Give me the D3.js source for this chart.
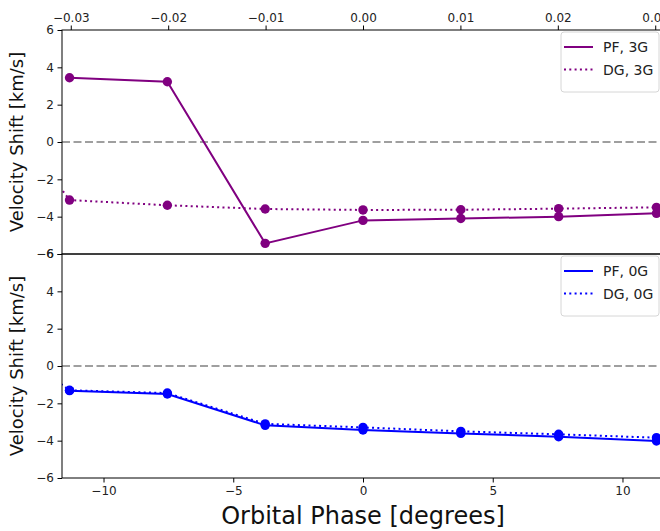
<!DOCTYPE html>
<html>
<head>
<meta charset="utf-8">
<script src="https://cdn.jsdelivr.net/npm/d3@7"></script>
<style>
  html, body { margin: 0; padding: 0; background: #fff; }
  svg { display: block; font-family: "DejaVu Sans", sans-serif; }
</style>
</head>
<body>
<svg id="chart" width="660" height="531"></svg>
<script>
// Orbital phase of each observation, in degrees
const phaseDeg = [-11.31, -7.54, -3.77, 0, 3.77, 7.54, 11.31];
// DG fits carry one earlier observation that falls left of the plotted window
const phaseDegDG = [-15.08, -11.31, -7.54, -3.77, 0, 3.77, 7.54, 11.31];

// Velocity shifts [km/s]
const pf3G = [3.44, 3.23, -5.43, -4.2, -4.1, -4.0, -3.82];
const dg3G = [4.0, -3.11, -3.39, -3.59, -3.64, -3.63, -3.57, -3.5];
const pf0G = [-1.32, -1.5, -3.18, -3.43, -3.61, -3.79, -4.02];
const dg0G = [2.6, -1.3, -1.45, -3.1, -3.29, -3.5, -3.66, -3.84];

const yTicks = [-6, -4, -2, 0, 2, 4, 6];
const xTicksDeg = [-10, -5, 0, 5, 10];
const xTicksPhase = [-0.03, -0.02, -0.01, 0.00, 0.01, 0.02, 0.03];

const legend3G = ["PF, 3G", "DG, 3G"];
const legend0G = ["PF, 0G", "DG, 0G"];

const svg = d3.select("#chart");
const left = 62, right = 664;
const tickFont = 12;
const panels = [
  { top: 30, bottom: 254, color: "purple", pf: pf3G, dg: dg3G, labels: legend3G, topAxis: true, bottomAxis: false },
  { top: 254, bottom: 478, color: "blue", pf: pf0G, dg: dg0G, labels: legend0G, topAxis: false, bottomAxis: true }
];

const x = d3.scaleLinear().domain([-11.6, 11.6]).range([left, right]);
const xPhase = d3.scaleLinear().domain([-0.0309, 0.0309]).range([left, right]);
const fmtMinus = s => s.replace("-", "\u2212");

function styleTicks(sel) {
  sel.select(".domain").remove();
  sel.selectAll("text").attr("font-size", tickFont)
    .attr("font-family", "DejaVu Sans").attr("fill", "#222");
}

panels.forEach((p, i) => {
  const y = d3.scaleLinear().domain([-6, 6]).range([p.bottom, p.top]);
  const g = svg.append("g");

  const clipId = "clip" + i;
  svg.append("clipPath").attr("id", clipId)
    .append("rect").attr("x", left).attr("y", p.top)
    .attr("width", right - left).attr("height", p.bottom - p.top);

  // zero reference
  g.append("line")
    .attr("x1", left).attr("x2", right)
    .attr("y1", y(0)).attr("y2", y(0))
    .attr("stroke", "#808080").attr("stroke-width", 1.5)
    .attr("stroke-dasharray", "8,3.5");

  const line = d3.line().x(d => x(d[0])).y(d => y(d[1]));
  const pfPts = phaseDeg.map((d, k) => [d, p.pf[k]]);
  const dgPts = phaseDegDG.map((d, k) => [d, p.dg[k]]);

  const plot = g.append("g").attr("clip-path", `url(#${clipId})`);
  plot.append("path").datum(dgPts)
    .attr("d", line).attr("fill", "none")
    .attr("stroke", p.color).attr("stroke-width", 2)
    .attr("stroke-dasharray", "2,3.3");
  plot.append("path").datum(pfPts)
    .attr("d", line).attr("fill", "none")
    .attr("stroke", p.color).attr("stroke-width", 2);

  const markers = g.append("g");
  markers.selectAll("circle.dg").data(dgPts.filter(d => d[0] >= x.domain()[0]))
    .join("circle").attr("class", "dg")
    .attr("cx", d => x(d[0])).attr("cy", d => y(d[1])).attr("r", 4.7)
    .attr("fill", p.color);
  markers.selectAll("circle.pf").data(pfPts)
    .join("circle").attr("class", "pf")
    .attr("cx", d => x(d[0])).attr("cy", d => y(d[1])).attr("r", 4.7)
    .attr("fill", p.color);

  // left axis
  g.append("g").attr("transform", `translate(${left},0)`)
    .call(d3.axisLeft(y).tickValues(yTicks).tickSize(4.5).tickPadding(3.5)
      .tickFormat(d => fmtMinus(d3.format("d")(d))))
    .call(styleTicks);

  if (p.topAxis) {
    g.append("g").attr("transform", `translate(0,${p.top})`)
      .call(d3.axisTop(xPhase).tickValues(xTicksPhase).tickSize(4.5).tickPadding(3.5)
        .tickFormat(d => fmtMinus(d3.format(".2f")(d))))
      .call(styleTicks);
  }
  if (p.bottomAxis) {
    g.append("g").attr("transform", `translate(0,${p.bottom})`)
      .call(d3.axisBottom(x).tickValues(xTicksDeg).tickSize(4.5).tickPadding(3.5)
        .tickFormat(d => fmtMinus(d3.format("d")(d))))
      .call(styleTicks);
  }

  // frame
  g.append("rect").attr("x", left).attr("y", p.top)
    .attr("width", right - left).attr("height", p.bottom - p.top)
    .attr("fill", "none").attr("stroke", "#000").attr("stroke-width", 1);

  // y label
  g.append("text")
    .attr("transform", `translate(23,${(p.top + p.bottom) / 2}) rotate(-90)`)
    .attr("text-anchor", "middle")
    .attr("font-size", 18).attr("fill", "#111")
    .text("Velocity Shift [km/s]");

  // legend
  const lg = g.append("g").attr("transform", `translate(561,${p.top + 2})`);
  lg.append("rect").attr("width", 98).attr("height", 60).attr("rx", 3)
    .attr("fill", "#fff").attr("fill-opacity", 0.8)
    .attr("stroke", "#d6d6d6").attr("stroke-width", 1);
  p.labels.forEach((lab, k) => {
    const yy = 15 + k * 22.5;
    lg.append("line").attr("x1", 3).attr("x2", 32).attr("y1", yy).attr("y2", yy)
      .attr("stroke", p.color).attr("stroke-width", 2)
      .attr("stroke-dasharray", k === 1 ? "2,3.3" : null);
    lg.append("text").attr("x", 42).attr("y", yy + 5)
      .attr("font-size", 14).attr("fill", "#222").text(lab);
  });
});

svg.append("text")
  .attr("x", (left + right) / 2).attr("y", 524)
  .attr("text-anchor", "middle")
  .attr("font-size", 24).attr("fill", "#111")
  .text("Orbital Phase [degrees]");
</script>
</body>
</html>
